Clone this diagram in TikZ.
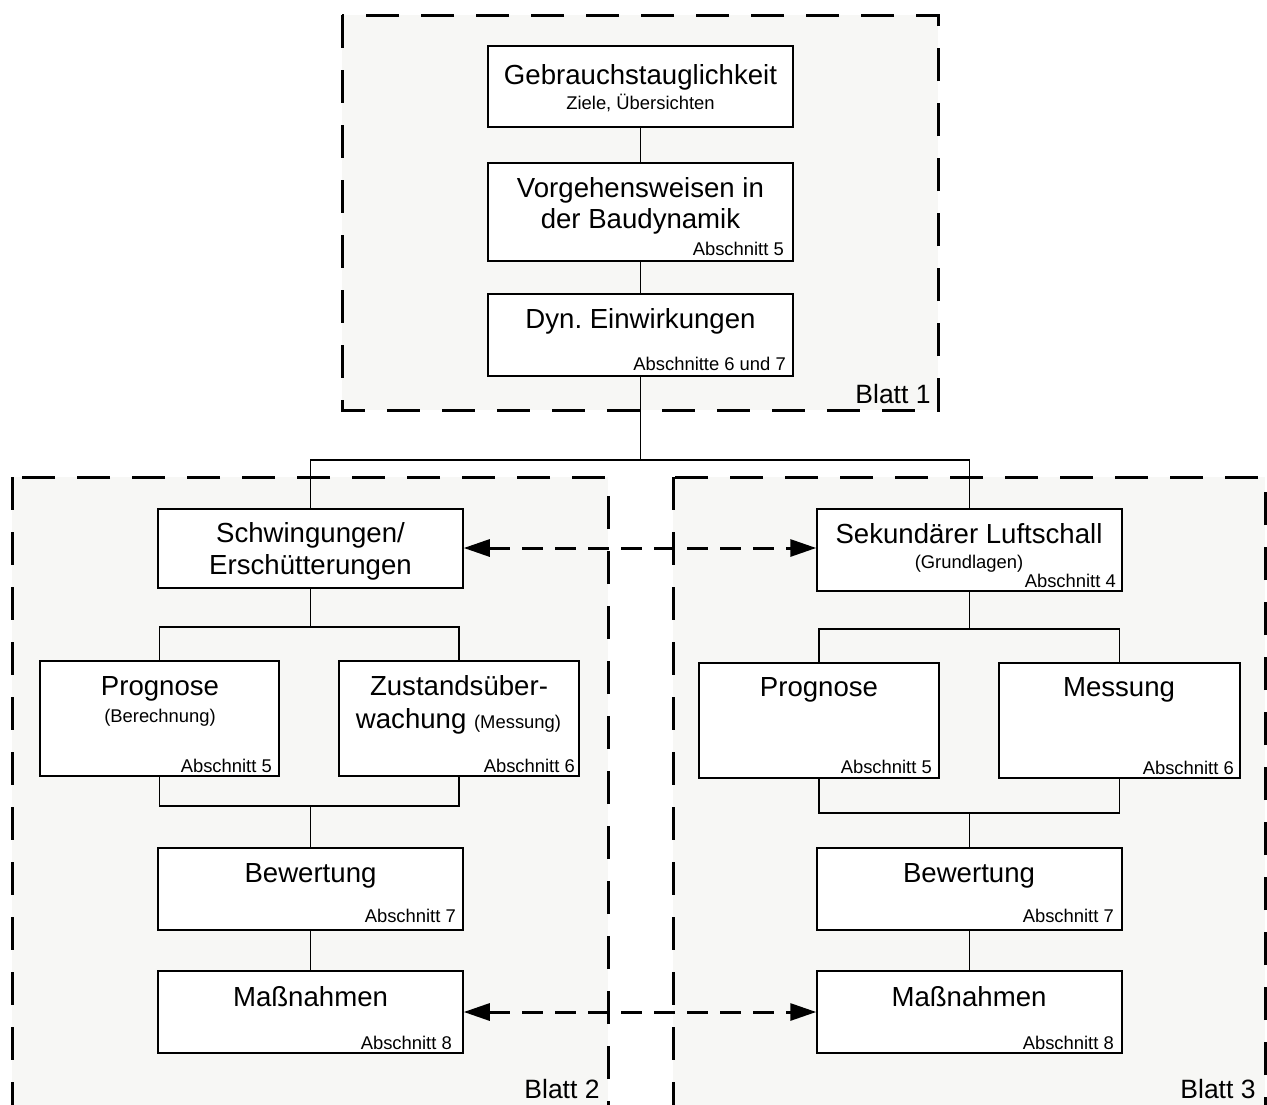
\documentclass[tikz,border=0pt]{standalone}
\usepackage{fontspec}
\setmainfont{Liberation Sans}
\usetikzlibrary{arrows.meta}
\definecolor{sheet}{HTML}{F7F7F5}
\frenchspacing
\begin{document}
\begin{tikzpicture}[x=1pt,y=-1pt,
  box/.style={draw=black, line width=1.5pt, fill=white, rectangle, inner sep=0pt},
  frame/.style={draw=black, fill=sheet, line width=3pt, dash pattern=on 33pt off 22pt},
  big/.style={font=\fontsize{27.6}{30}\selectfont, inner sep=0pt, anchor=base},
  small/.style={font=\fontsize{18.4}{21}\selectfont, inner sep=0pt, anchor=base},
  sec/.style={font=\fontsize{18.4}{21}\selectfont, inner sep=0pt, anchor=base east},
  sheetlabel/.style={font=\fontsize{26.5}{30}\selectfont, inner sep=0pt, anchor=base},
  conn/.style={line width=1.4pt},
  link/.style={line width=3pt, dash pattern=on 21pt off 12pt, {Triangle[length=26pt,width=17pt]}-{Triangle[length=26pt,width=17pt]}}
]
\useasboundingbox (0,0) rectangle (1267,1104);
\clip (0,0) rectangle (1267,1104);
% sheets
\path[frame] (342,15) rectangle (938,410);
\path[frame] (12,477) rectangle (608,1140);
\path[frame] (673,477) rectangle (1265,1140);
\node[sheetlabel] (l1) at (893,403) {Blatt 1};
\node[sheetlabel] (l2) at (562,1098) {Blatt 2};
\node[sheetlabel] (l3) at (1218,1098) {Blatt 3};

% Blatt 1 boxes
\node[box, minimum width=305pt, minimum height=81pt] (b1) at (640.5,86.5) {};
\node[box, minimum width=305pt, minimum height=98pt] (b2) at (640.5,212) {};
\node[box, minimum width=305pt, minimum height=82pt] (b3) at (640.5,335) {};
\node[big] (t1a) at (640.5,84) {Gebrauchstauglichkeit};
\node[small] (t1b) at (640.5,109) {Ziele, Übersichten};
\node[big] (t2a) at (640.5,197) {Vorgehensweisen in};
\node[big] (t2b) at (640.5,228) {der Baudynamik};
\node[sec] (t2c) at (784,255) {Abschnitt 5};
\node[big] (t3a) at (640.5,328) {Dyn. Einwirkungen};
\node[sec] (t3b) at (786,370) {Abschnitte 6 und 7};

% Blatt 2 boxes
\node[box, minimum width=305pt, minimum height=79pt] (s1) at (310.5,548.5) {};
\node[box, minimum width=239pt, minimum height=115pt] (p1) at (159.5,718.5) {};
\node[box, minimum width=240pt, minimum height=115pt] (z1) at (459,718.5) {};
\node[box, minimum width=305pt, minimum height=82pt] (bw1) at (310.5,889) {};
\node[box, minimum width=305pt, minimum height=82pt] (m1) at (310.5,1012) {};
\node[big] (s1a) at (310.5,542) {Schwingungen/};
\node[big] (s1b) at (310.5,574) {Erschütterungen};
\node[big] (p1a) at (160,695) {Prognose};
\node[small] (p1b) at (160,722) {(Berechnung)};
\node[sec] (p1c) at (272,772) {Abschnitt 5};
\node[big] (z1a) at (459,695) {Zustandsüber-};
\node[big] (z1b) at (458.5,728) {wachung {\fontsize{18.4}{21}\selectfont(Messung)}};
\node[sec] (z1c) at (575,772) {Abschnitt 6};
\node[big] (bw1a) at (310.5,882) {Bewertung};
\node[sec] (bw1b) at (456,922) {Abschnitt 7};
\node[big] (m1a) at (310.5,1006) {Maßnahmen};
\node[sec] (m1b) at (452,1049) {Abschnitt 8};

% Blatt 3 boxes
\node[box, minimum width=305pt, minimum height=82pt] (s2) at (969.5,550) {};
\node[box, minimum width=240pt, minimum height=115pt] (p2) at (819,720.5) {};
\node[box, minimum width=241pt, minimum height=115pt] (me2) at (1119.5,720.5) {};
\node[box, minimum width=305pt, minimum height=82pt] (bw2) at (969.5,889) {};
\node[box, minimum width=305pt, minimum height=82pt] (m2) at (969.5,1012) {};
\node[big] (s2a) at (969,543) {Sekundärer Luftschall};
\node[small] (s2b) at (969,568) {(Grundlagen)};
\node[sec] (s2c) at (1116,587) {Abschnitt 4};
\node[big] (p2a) at (819,696) {Prognose};
\node[sec] (p2b) at (932,773) {Abschnitt 5};
\node[big] (me2a) at (1119,696) {Messung};
\node[sec] (me2b) at (1234,774) {Abschnitt 6};
\node[big] (bw2a) at (969,882) {Bewertung};
\node[sec] (bw2b) at (1114,922) {Abschnitt 7};
\node[big] (m2a) at (969,1006) {Maßnahmen};
\node[sec] (m2b) at (1114,1049) {Abschnitt 8};

% connectors
\coordinate (split) at (640.5,460);
\coordinate (la) at (310.5,627);
\coordinate (lb) at (310.5,806);
\coordinate (ra) at (969.5,629);
\coordinate (rb) at (969.5,813);
\draw[conn] (b1) -- (b2);
\draw[conn] (b2) -- (b3);
\draw[conn] (b3.south) -- (split);
\draw[conn] (s1.north) |- (split) -| (s2.north);
\draw[conn] (s1.south) -- (la);
\draw[conn] (p1.north) |- (la) -| (z1.north);
\draw[conn] (p1.south) |- (lb) -| (z1.south);
\draw[conn] (lb) -- (bw1.north);
\draw[conn] (bw1) -- (m1);
\draw[conn] (s2.south) -- (ra);
\draw[conn] (p2.north) |- (ra) -| (me2.north);
\draw[conn] (p2.south) |- (rb) -| (me2.south);
\draw[conn] (rb) -- (bw2.north);
\draw[conn] (bw2) -- (m2);
% dashed links
\draw[link] (s1.east |- 0,548) -- (s2.west |- 0,548);
\draw[link] (m1.east) -- (m2.west);
\end{tikzpicture}
\end{document}
